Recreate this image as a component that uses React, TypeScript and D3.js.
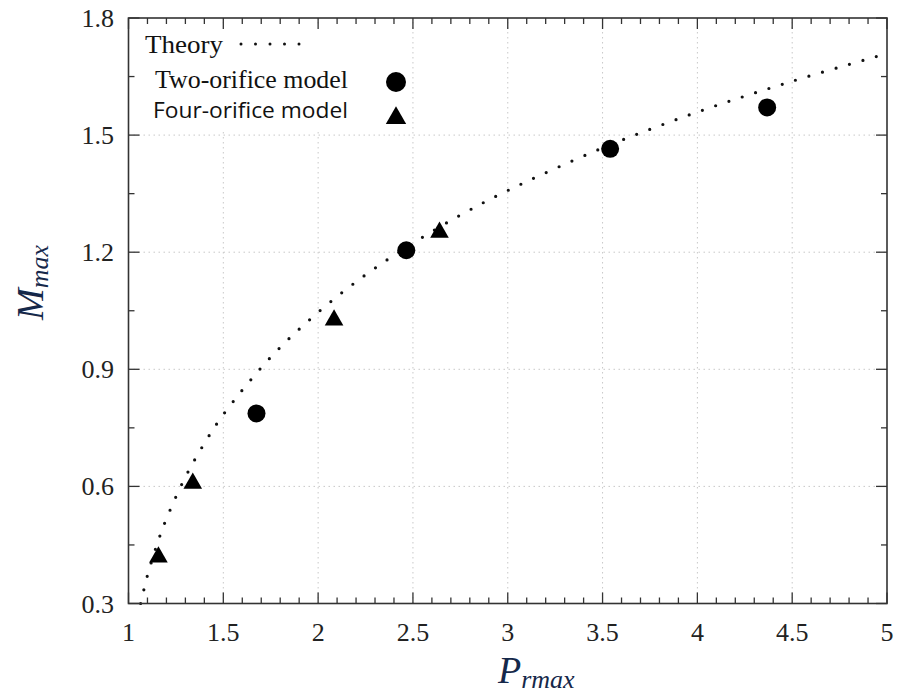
import React from "react";
import * as d3 from "d3";

const W = 901;
const H = 698;

const xTicks = [1, 1.5, 2, 2.5, 3, 3.5, 4, 4.5, 5];
const yTicks = [0.3, 0.6, 0.9, 1.2, 1.5, 1.8];
const xTickLabels = ["1", "1.5", "2", "2.5", "3", "3.5", "4", "4.5", "5"];
const yTickLabels = ["0.3", "0.6", "0.9", "1.2", "1.5", "1.8"];

// Theory curve
const theoryX = [1.064, 1.08, 1.1, 1.15, 1.2, 1.3, 1.4, 1.5, 1.75, 2, 2.25, 2.5, 2.75, 3, 3.5, 4, 4.5, 5];
const theoryY = [0.3, 0.333, 0.372, 0.451, 0.517, 0.624, 0.71, 0.784, 0.931, 1.046, 1.142, 1.223, 1.295, 1.358, 1.467, 1.559, 1.638, 1.709];

// Two-orifice model
const twoX = [1.675, 2.465, 3.54, 4.368];
const twoY = [0.787, 1.205, 1.465, 1.571];

// Four-orifice model
const fourX = [1.158, 1.339, 2.084, 2.64];
const fourY = [0.419, 0.608, 1.026, 1.251];

const legendLabels = ["Theory", "Two-orifice model", "Four-orifice model"];

const SERIF = "'Liberation Serif', 'Times New Roman', serif";
const SANS = "'Open Sans', 'Noto Sans', sans-serif";
const AXIS = "#333";
const LABEL_COLOR = "#15284a";

export default function App() {
  const x = d3.scaleLinear().domain([1, 5]).range([128.5, 887]);
  const y = d3.scaleLinear().domain([0.3, 1.8]).range([603.5, 18]);
  const [x0, x1] = x.range();
  const [y0, y1] = y.range();

  const xMinor = d3.range(1, 5.0001, 0.1).map((v) => +v.toFixed(2));
  const yMinor = d3.range(0.3, 1.8001, 0.15).map((v) => +v.toFixed(2));

  const theoryPts: [number, number][] = theoryX.map((v, i) => [v, theoryY[i]]);
  const line = d3
    .line<[number, number]>()
    .x((d) => x(d[0]))
    .y((d) => y(d[1]))
    .curve(d3.curveCatmullRom);

  const tri = d3.symbol().type(d3.symbolTriangle).size(150)();
  const triLegend = d3.symbol().type(d3.symbolTriangle).size(180)();

  const isMajorX = (v: number) => xTicks.some((t) => Math.abs(t - v) < 1e-6);
  const isMajorY = (v: number) => yTicks.some((t) => Math.abs(t - v) < 1e-6);

  return (
    <svg
      width={W}
      height={H}
      style={{ position: "absolute", left: 0, top: 0, background: "#fff" }}
    >
      <rect x={0} y={0} width={W} height={H} fill="#fff" />
      {/* grid */}
      <g stroke="#c8c8c8" strokeWidth={1} strokeDasharray="1.5,3.5">
        {xTicks.slice(1, -1).map((t) => (
          <line key={"gx" + t} x1={x(t)} x2={x(t)} y1={y0} y2={y1} />
        ))}
        {yTicks.slice(1, -1).map((t) => (
          <line key={"gy" + t} x1={x0} x2={x1} y1={y(t)} y2={y(t)} />
        ))}
      </g>
      {/* legend background */}
      <rect x={134} y={24} width={274} height={106} fill="#fff" />
      {/* theory curve */}
      <path
        d={line(theoryPts) || ""}
        fill="none"
        stroke="#111"
        strokeWidth={3.2}
        strokeLinecap="round"
        strokeDasharray="0,14"
      />
      {/* two-orifice circles */}
      {twoX.map((v, i) => (
        <circle key={"c" + i} cx={x(v)} cy={y(twoY[i])} r={9} fill="#000" />
      ))}
      {/* four-orifice triangles */}
      {fourX.map((v, i) => (
        <path
          key={"t" + i}
          d={tri || ""}
          transform={`translate(${x(v)},${y(fourY[i])})`}
          fill="#000"
        />
      ))}
      {/* ticks */}
      <g stroke={AXIS} strokeWidth={1.3}>
        {xMinor.map((v) => {
          const len = isMajorX(v) ? 11 : 6;
          return (
            <g key={"tx" + v}>
              <line x1={x(v)} x2={x(v)} y1={y0} y2={y0 - len} />
              <line x1={x(v)} x2={x(v)} y1={y1} y2={y1 + len} />
            </g>
          );
        })}
        {yMinor.map((v) => {
          const len = isMajorY(v) ? 11 : 6;
          return (
            <g key={"ty" + v}>
              <line x1={x0} x2={x0 + len} y1={y(v)} y2={y(v)} />
              <line x1={x1} x2={x1 - len} y1={y(v)} y2={y(v)} />
            </g>
          );
        })}
      </g>
      {/* border */}
      <rect
        x={x0}
        y={y1}
        width={x1 - x0}
        height={y0 - y1}
        fill="none"
        stroke={AXIS}
        strokeWidth={1.6}
      />
      {/* tick labels */}
      <g fontFamily={SERIF} fontSize={26} fill="#222">
        {xTicks.map((t, i) => (
          <text key={"lx" + t} x={x(t)} y={641} textAnchor="middle">
            {xTickLabels[i]}
          </text>
        ))}
        {yTicks.map((t, i) => (
          <text key={"ly" + t} x={114} y={y(t) + 9} textAnchor="end">
            {yTickLabels[i]}
          </text>
        ))}
      </g>
      {/* axis titles */}
      <text
        x={498}
        y={683}
        fontFamily={SERIF}
        fontStyle="italic"
        fontSize={38}
        fill={LABEL_COLOR}
      >
        P
        <tspan fontSize={26} dy={5}>
          rmax
        </tspan>
      </text>
      <text
        transform="translate(43,320) rotate(-90)"
        fontFamily={SERIF}
        fontStyle="italic"
        fontSize={38}
        fill={LABEL_COLOR}
      >
        M
        <tspan fontSize={26} dy={5}>
          max
        </tspan>
      </text>
      {/* legend */}
      <text
        x={145}
        y={53}
        fontFamily={SERIF}
        fontSize={26}
        fill="#111"
        textLength={78}
        lengthAdjust="spacingAndGlyphs"
      >
        {legendLabels[0]}
      </text>
      <line
        x1={241}
        x2={300}
        y1={44}
        y2={44}
        stroke="#111"
        strokeWidth={3}
        strokeLinecap="round"
        strokeDasharray="0,14.5"
      />
      <text
        x={155}
        y={88}
        fontFamily={SERIF}
        fontSize={26}
        fill="#111"
        textLength={193}
        lengthAdjust="spacingAndGlyphs"
      >
        {legendLabels[1]}
      </text>
      <circle cx={396} cy={82} r={10} fill="#000" />
      <text
        x={153}
        y={118}
        fontFamily={SANS}
        fontSize={21}
        fill="#111"
        textLength={195}
        lengthAdjust="spacingAndGlyphs"
      >
        {legendLabels[2]}
      </text>
      <path d={triLegend || ""} transform="translate(396,118)" fill="#000" />
    </svg>
  );
}
